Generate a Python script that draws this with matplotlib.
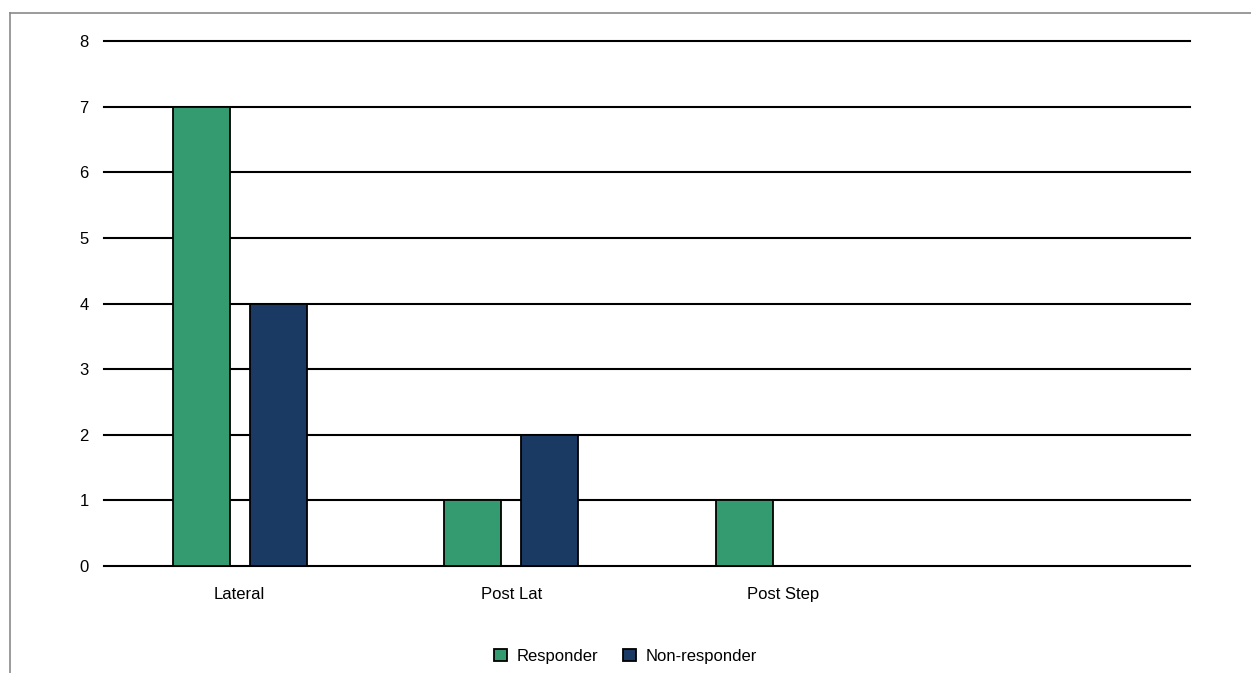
import matplotlib.pyplot as plt
from matplotlib.lines import Line2D
from matplotlib.patches import Patch
import numpy as np

plt.rcParams['font.family'] = ['Liberation Sans', 'DejaVu Sans']

categories = ["Lateral", "Post Lat", "Post Step", ""]
responder = [7, 1, 1, 0]
non_responder = [4, 2, 0, 0]

green = "#349b70"
navy = "#1b3a63"

fig = plt.figure(figsize=(12.51, 6.73), dpi=100)
ax = fig.add_axes([0.0831, 0.159, 0.868, 0.780])

x = np.arange(len(categories))
w = 0.21
off = 0.142
# empty categories get no outline
ax.bar(x - off, responder, w, color=green, edgecolor="black",
       linewidth=[1.3 if v else 0 for v in responder], label="Responder")
ax.bar(x + off, non_responder, w, color=navy, edgecolor="black",
       linewidth=[1.3 if v else 0 for v in non_responder], label="Non-responder")

ax.set_xlim(-0.5, len(categories) - 0.5)
ax.set_ylim(0, 8)
ax.set_yticks(range(0, 9))
ax.set_xticks(x)
ax.set_xticklabels(categories)
ax.tick_params(axis="both", length=0, labelsize=12)
ax.tick_params(axis="y", pad=11)
ax.tick_params(axis="x", pad=15)
ax.yaxis.grid(True, color="black", linewidth=1.5)
for gl in ax.get_ygridlines():
    gl.set_clip_on(False)
ax.set_axisbelow(True)
for s in ax.spines.values():
    s.set_visible(False)

handles = [Patch(facecolor=green, edgecolor="black", linewidth=1.3),
           Patch(facecolor=navy, edgecolor="black", linewidth=1.3)]
fig.legend(handles, ["Responder", "Non-responder"], loc="center",
           bbox_to_anchor=(0.5, 0.025), ncol=2, frameon=False, fontsize=12,
           handlelength=0.8, handleheight=0.8, handletextpad=0.6, columnspacing=1.45)

# outer frame (top and left edges only)
fig.add_artist(Line2D([9.5 / 1251, 1], [1 - 12.5 / 673] * 2, color="#8a8a8a", linewidth=1.2))
fig.add_artist(Line2D([9.5 / 1251] * 2, [0, 1 - 12.5 / 673], color="#8a8a8a", linewidth=1.2))

fig.savefig("out.png", dpi=100)
